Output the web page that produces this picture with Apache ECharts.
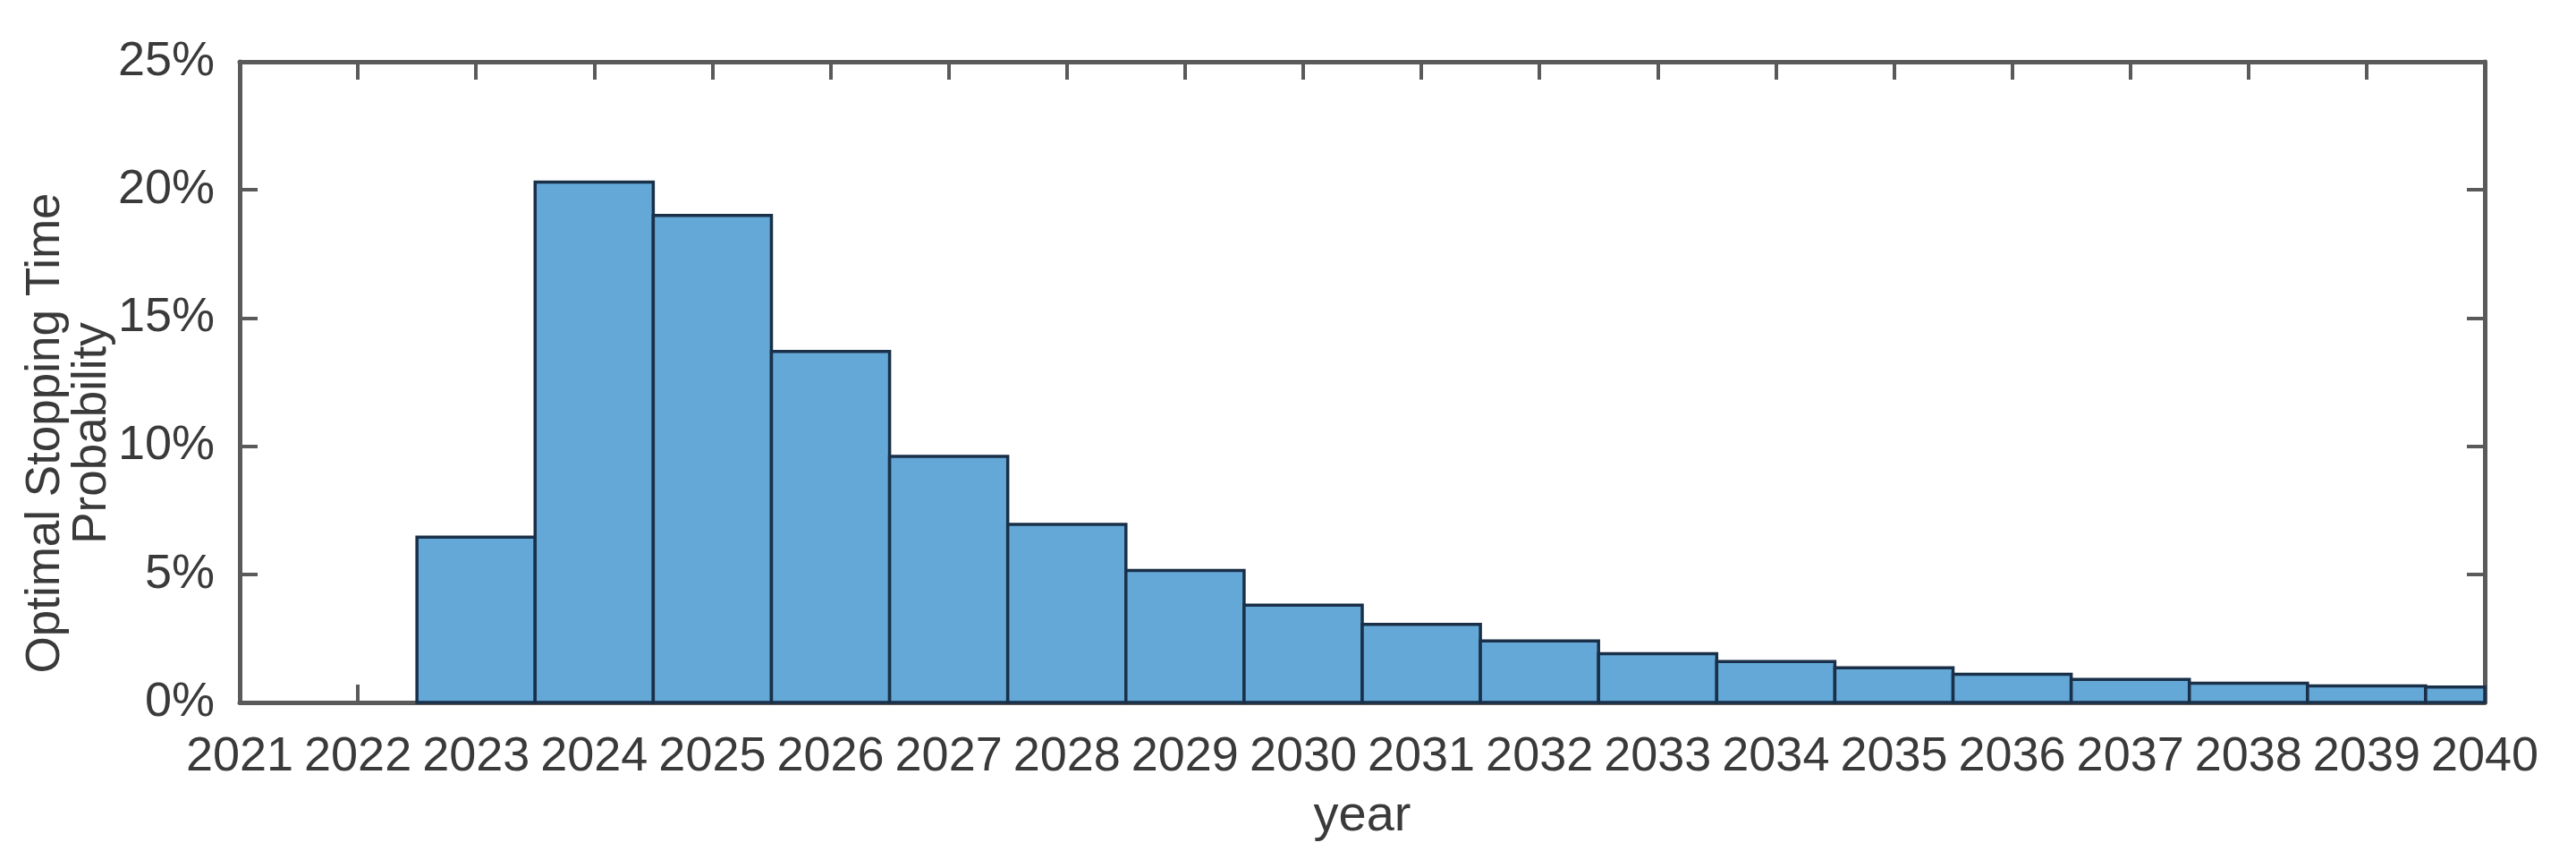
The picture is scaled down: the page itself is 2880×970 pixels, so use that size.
<!DOCTYPE html>
<html>
<head>
<meta charset="utf-8">
<script src="https://cdn.jsdelivr.net/npm/echarts@6/dist/echarts.min.js"></script>
<style>
html,body{margin:0;padding:0;background:#fff;}
#chart{width:2880px;height:970px;}
</style>
</head>
<body>
<div id="chart"></div>
<script>
// Data
const years = [2021,2022,2023,2024,2025,2026,2027,2028,2029,2030,2031,2032,2033,2034,2035,2036,2037,2038,2039,2040];
const probability = [0,0,6.45,20.3,19.0,13.7,9.6,6.95,5.15,3.8,3.05,2.4,1.9,1.6,1.35,1.1,0.9,0.75,0.65,0.6];
const yTicks = [0,5,10,15,20,25];
const xName = 'year';
const yName = 'Optimal Stopping Time\nProbability';

const chart = echarts.init(document.getElementById('chart'));
const axisColor = '#5a5a5a';
const labelColor = '#3a3a3a';
const font = 'Liberation Sans, Arial, Helvetica, sans-serif';

const barData = years.map((y, i) => [y, probability[i]]);

function renderBar(params, api) {
  const x = api.value(0);
  const v = api.value(1);
  if (!v) return null;
  const p0 = api.coord([x - 0.5, v]);
  const p1 = api.coord([x + 0.5, 0]);
  const cs = params.coordSys;
  const rect = echarts.graphic.clipRectByRect(
    { x: p0[0], y: p0[1], width: p1[0] - p0[0], height: p1[1] - p0[1] },
    { x: cs.x, y: cs.y, width: cs.width, height: cs.height }
  );
  if (!rect) return null;
  return {
    type: 'rect',
    shape: rect,
    style: { fill: '#64A8D8', stroke: '#1a3048', lineWidth: 3.5 }
  };
}

const baseX = {
  type: 'value', min: 2021, max: 2040, interval: 1,
  axisLine: { show: true, onZero: false, lineStyle: { color: axisColor, width: 5 } },
  axisTick: { show: true, inside: true, length: 20, lineStyle: { color: axisColor, width: 4 } },
  splitLine: { show: false }
};
const baseY = {
  type: 'value', min: 0, max: 25, interval: 5,
  axisLine: { show: true, onZero: false, lineStyle: { color: axisColor, width: 5 } },
  axisTick: { show: true, inside: true, length: 20, lineStyle: { color: axisColor, width: 4 } },
  splitLine: { show: false }
};

chart.setOption({
  backgroundColor: '#ffffff',
  animation: false,
  grid: { left: 268, right: 102, top: 69, bottom: 185 },
  xAxis: [
    Object.assign({}, baseX, {
      position: 'bottom',
      name: xName, nameLocation: 'middle', nameGap: 100, nameMoveOverlap: false,
      nameTextStyle: { color: labelColor, fontSize: 56, fontFamily: font },
      axisLabel: { show: true, margin: 34, color: labelColor, fontSize: 54, fontFamily: font,
        formatter: v => String(v) }
    }),
    Object.assign({}, baseX, { position: 'top', axisLabel: { show: false } })
  ],
  yAxis: [
    Object.assign({}, baseY, {
      position: 'left',
      name: yName, nameLocation: 'middle', nameGap: 139, nameRotate: 90, nameMoveOverlap: false,
      nameTextStyle: { color: labelColor, fontSize: 53, lineHeight: 52, fontFamily: font,
        padding: [0, 114, 0, 0] },
      axisLabel: { show: true, margin: 28, color: labelColor, fontSize: 54, fontFamily: font,
        formatter: v => yTicks.includes(v) ? v + '%' : '' }
    }),
    Object.assign({}, baseY, { position: 'right', axisLabel: { show: false } })
  ],
  series: [{
    type: 'custom',
    renderItem: renderBar,
    encode: { x: 0, y: 1 },
    data: barData,
    z: 1
  }]
});
</script>
</body>
</html>
